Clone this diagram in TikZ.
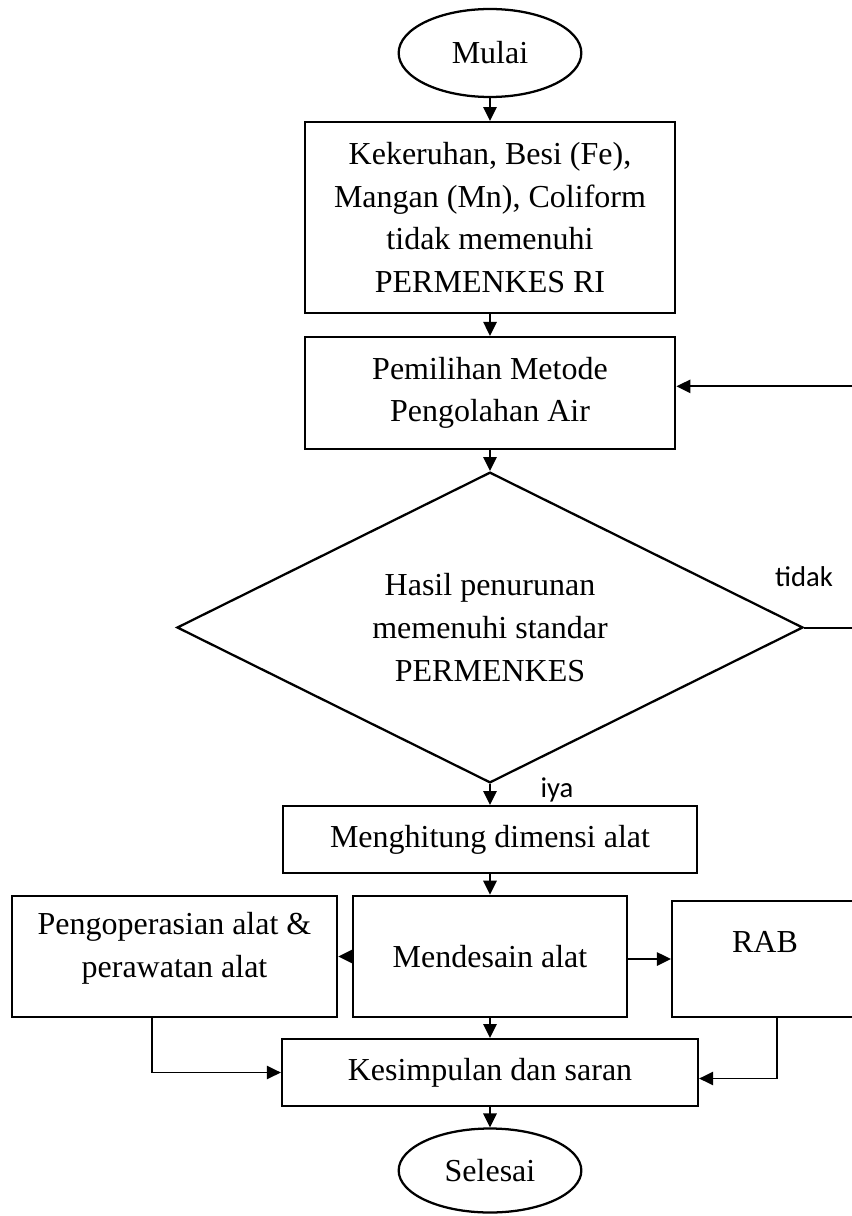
\documentclass[tikz,border=0pt]{standalone}
\usepackage{fontspec}
\setmainfont{Liberation Serif}
\newfontfamily\notefont{Carlito}
\usetikzlibrary{positioning, shapes.geometric, arrows.meta}

\begin{document}
\begin{tikzpicture}[
    x=0.75pt, y=-0.75pt,
    every node/.style={font=\fontsize{24}{32}\selectfont},
    process/.style={draw, line width=1.7pt, align=center, inner sep=0pt},
    terminal/.style={ellipse, draw, line width=1.7pt, minimum width=137pt, minimum height=66pt, inner sep=0pt},
    decision/.style={diamond, aspect=2, draw, line width=1.7pt, align=center, minimum width=469.5pt, minimum height=233pt, inner sep=0pt},
    arrow/.style={-{Triangle[length=10.5pt, width=10pt]}, line width=1.5pt},
    thin arrow/.style={-{Triangle[length=10.5pt, width=10pt]}, line width=1pt},
    note/.style={font=\notefont\fontsize{21.5}{26}\selectfont}
]
\useasboundingbox (0,0) rectangle (852,1216);

% main column
\node[terminal] (mulai) at (490,53) {Mulai};
\node[process, minimum width=278pt, minimum height=143pt] (masalah) at (490,217.5) {Kekeruhan, Besi (Fe),\\Mangan (Mn), Coliform\\tidak memenuhi\\PERMENKES RI};
\node[process, minimum width=278pt, minimum height=84pt] (metode) at (490,393) {Pemilihan Metode\\Pengolahan Air};
\node[decision] (hasil) at (490,627.5) {Hasil penurunan\\memenuhi standar\\PERMENKES};
\node[process, minimum width=311pt, minimum height=50pt] (hitung) at (490,839.5) {Menghitung dimensi alat};

% design row
\node[process, minimum width=205.5pt, minimum height=91pt] (desain) at (490,956.5) {Mendesain alat};
\node[process, minimum width=244pt, minimum height=91pt, text depth=17pt] (operasi) at (174.5,956.5) {Pengoperasian alat \&\\perawatan alat};
\node[process, minimum width=139.5pt, minimum height=87pt, text depth=25pt] (rab) at (765,959) {RAB};

% end
\node[process, minimum width=312pt, minimum height=50pt] (simpul) at (490,1072.5) {Kesimpulan dan saran};
\node[terminal, minimum height=63pt] (selesai) at (490,1170.5) {Selesai};

\draw[arrow] (mulai) -- (masalah);
\draw[arrow] (masalah) -- (metode);
\draw[arrow] (metode) -- (hasil);
\draw[arrow] (hasil) -- (hitung);
\node[note] (iya) at (557,790) {iya};

% back to method choice
\coordinate (balik) at (862,627.5);
\draw[arrow] (hasil.east) -- (balik) |- ([yshift=5pt]metode.east);
\node[note] (tidak) at (804,577) {tidak};

\draw[arrow] (hitung) -- (desain);
\draw[arrow] (desain.west) -- (operasi.east);
\draw[arrow] (desain.east |- rab.west) -- (rab.west);
\draw[arrow] (desain) -- (simpul);
\draw[thin arrow] ([xshift=-17pt]operasi.south) |- (simpul.west);
\draw[thin arrow] ([xshift=9pt]rab.south) |- ([yshift=-4.5pt]simpul.east);
\draw[arrow] (simpul) -- (selesai);

\end{tikzpicture}
\end{document}
